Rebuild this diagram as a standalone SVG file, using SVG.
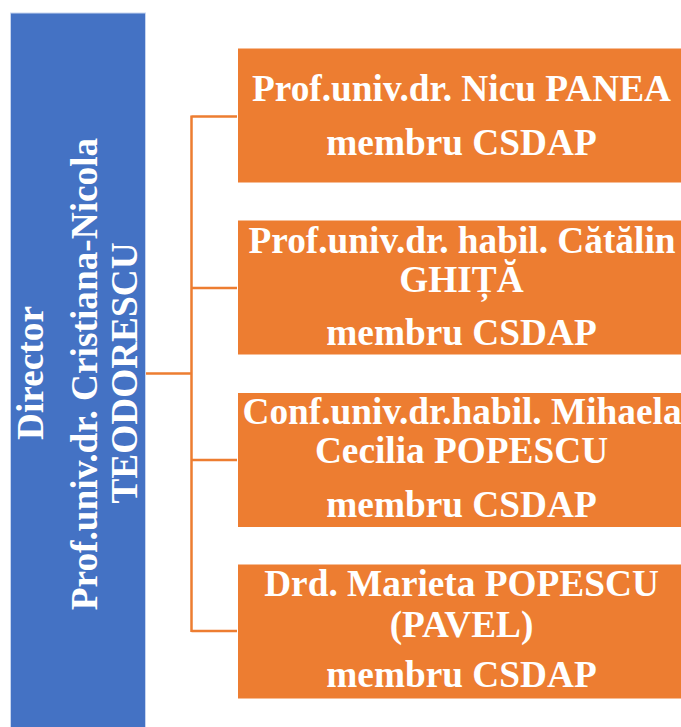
<svg xmlns="http://www.w3.org/2000/svg" width="681" height="727" viewBox="0 0 681 727">
<style>
.t{font-family:"Liberation Serif","Times New Roman",serif;font-weight:bold;font-size:37.3px;fill:#fff;text-anchor:middle}
.box{fill:#ED7D31;stroke:#fff;stroke-width:1}
.conn{fill:none;stroke:#ED7D31;stroke-width:2.5}
</style>
<rect width="681" height="727" fill="#fff"/>
<g id="director">
<rect x="10.5" y="13" width="135" height="720" fill="#4472C4" stroke="#c7d5ef" stroke-width="1"/>
<text class="t" transform="translate(43,373) rotate(-90)">Director</text>
<text class="t" transform="translate(97,374) rotate(-90)">Prof.univ.dr. Cristiana-Nicola</text>
<text class="t" transform="translate(137,373) rotate(-90)">TEODORESCU</text>
</g>
<g id="connectors">
<path class="conn" d="M146,373.5 H191.5 M191.5,115.5 V632 M191.5,116.5 H237 M191.5,288 H237 M191.5,460 H237 M191.5,631 H237"/>
</g>
<g id="n1">
<rect class="box" x="237.5" y="48" width="450" height="135"/>
<text class="t" x="461.5" y="101">Prof.univ.dr. Nicu PANEA</text>
<text class="t" x="461.5" y="155">membru CSDAP</text>
</g>
<g id="n2">
<rect class="box" x="237.5" y="220" width="450" height="135"/>
<text class="t" x="462" y="252.5">Prof.univ.dr. habil. Cătălin</text>
<text class="t" x="461.5" y="292">GHIȚĂ</text>
<text class="t" x="461.5" y="345">membru CSDAP</text>
</g>
<g id="n3">
<rect class="box" x="237.5" y="392.5" width="450" height="135"/>
<text class="t" x="462" y="424">Conf.univ.dr.habil. Mihaela</text>
<text class="t" x="461.5" y="463">Cecilia POPESCU</text>
<text class="t" x="461.5" y="517">membru CSDAP</text>
</g>
<g id="n4">
<rect class="box" x="237.5" y="564" width="450" height="135"/>
<text class="t" x="461.5" y="596">Drd. Marieta POPESCU</text>
<text class="t" x="461.5" y="637">(PAVEL)</text>
<text class="t" x="461.5" y="687">membru CSDAP</text>
</g>
</svg>
